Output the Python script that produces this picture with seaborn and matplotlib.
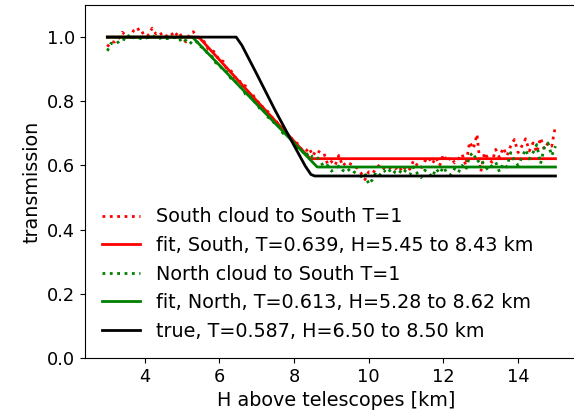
import numpy as np
import matplotlib
matplotlib.use("Agg")
import matplotlib.pyplot as plt
import seaborn as sns

# -------------------------------
# Data
# -------------------------------
h = np.round(np.arange(3.0, 15.01, 0.1), 1)

south = [0.970, 0.985, 0.985, 0.995, 1.015, 1.005, 1.000, 1.020, 1.030, 1.010,
         1.017, 1.005, 1.028, 1.010, 1.016, 1.000, 1.005, 1.014, 1.000, 1.017,
         1.000, 0.985, 1.009, 1.017, 1.000, 0.995, 0.985, 0.962, 0.960, 0.950,
         0.925, 0.925, 0.900, 0.898, 0.875, 0.873, 0.850, 0.848, 0.822, 0.820,
         0.800, 0.795, 0.772, 0.768, 0.750, 0.742, 0.725, 0.718, 0.700, 0.690,
         0.672, 0.668, 0.650, 0.642, 0.655, 0.630, 0.648, 0.640, 0.638, 0.603,
         0.612, 0.600, 0.631, 0.598, 0.610, 0.605, 0.600, 0.590, 0.575, 0.556,
         0.580, 0.575, 0.590, 0.603, 0.592, 0.585, 0.595, 0.588, 0.598, 0.580,
         0.598, 0.588, 0.615, 0.600, 0.590, 0.613, 0.625, 0.605, 0.625, 0.600,
         0.634, 0.612, 0.625, 0.608, 0.620, 0.635, 0.600, 0.673, 0.652, 0.697,
         0.580, 0.640, 0.620, 0.610, 0.650, 0.625, 0.655, 0.630, 0.660, 0.681,
         0.640, 0.660, 0.683, 0.645, 0.670, 0.640, 0.686, 0.650, 0.670, 0.660,
         0.723]

north = [0.957, 0.981, 0.978, 0.985, 0.995, 0.990, 1.010, 0.998, 1.000, 0.995,
         0.994, 1.000, 1.005, 0.998, 0.996, 1.000, 0.995, 1.000, 0.998, 1.000,
         0.983, 0.990, 0.978, 0.990, 0.985, 0.970, 0.965, 0.945, 0.940, 0.920,
         0.915, 0.895, 0.892, 0.872, 0.868, 0.848, 0.842, 0.822, 0.820, 0.800,
         0.795, 0.772, 0.770, 0.750, 0.745, 0.725, 0.722, 0.700, 0.700, 0.680,
         0.672, 0.655, 0.650, 0.630, 0.640, 0.625, 0.628, 0.613, 0.595, 0.600,
         0.582, 0.590, 0.598, 0.585, 0.578, 0.590, 0.580, 0.573, 0.565, 0.575,
         0.541, 0.556, 0.580, 0.570, 0.585, 0.575, 0.590, 0.578, 0.573, 0.590,
         0.580, 0.570, 0.595, 0.575, 0.562, 0.585, 0.578, 0.563, 0.590, 0.575,
         0.595, 0.575, 0.570, 0.590, 0.578, 0.600, 0.585, 0.630, 0.640, 0.610,
         0.620, 0.600, 0.585, 0.600, 0.610, 0.580, 0.605, 0.595, 0.640, 0.615,
         0.600, 0.625, 0.650, 0.620, 0.640, 0.665, 0.605, 0.655, 0.670, 0.630,
         0.660]

# fitted / true profiles (corner points)
fit_s_h = [3.0, 5.45, 6.9, 8.43, 15.0]
fit_s_t = [1.0, 1.0, 0.814, 0.621, 0.621]
fit_n_h = [3.0, 5.28, 6.9, 8.62, 15.0]
fit_n_t = [1.0, 1.0, 0.803, 0.595, 0.595]
true_h = [3.0, 6.45, 6.6, 7.0, 7.5, 8.0, 8.3, 8.45, 8.55, 15.0]
true_t = [1.0, 1.0, 0.975, 0.885, 0.770, 0.662, 0.598, 0.572, 0.567, 0.567]

labels = ["South cloud to South T=1",
          "fit, South, T=0.639, H=5.45 to 8.43 km",
          "North cloud to South T=1",
          "fit, North, T=0.613, H=5.28 to 8.62 km",
          "true, T=0.587, H=6.50 to 8.50 km"]

# -------------------------------
# Plot
# -------------------------------
plt.rcParams['font.size'] = 13.75
plt.rcParams['xtick.labelsize'] = 12.8
plt.rcParams['ytick.labelsize'] = 12.8
fig = plt.figure(figsize=(5.74, 4.2), dpi=100)
ax = fig.add_axes([0.148, 0.148, 0.875, 0.840])

sns.lineplot(x=h, y=south, color='red', linestyle=':', linewidth=2,
             label=labels[0], ax=ax)
sns.lineplot(x=fit_s_h, y=fit_s_t, color='red', linewidth=2,
             label=labels[1], ax=ax)
sns.lineplot(x=h, y=north, color='green', linestyle=':', linewidth=2,
             label=labels[2], ax=ax)
sns.lineplot(x=fit_n_h, y=fit_n_t, color='green', linewidth=2,
             label=labels[3], ax=ax)
sns.lineplot(x=true_h, y=true_t, color='black', linewidth=2,
             label=labels[4], ax=ax)

ax.set_xlim(2.4, 15.85)
ax.set_ylim(0, 1.1)
ax.set_xticks([4, 6, 8, 10, 12, 14])
ax.set_yticks([0.0, 0.2, 0.4, 0.6, 0.8, 1.0])
ax.set_xlabel("H above telescopes [km]")
ax.set_ylabel("transmission")
ax.legend(loc='lower left', frameon=False)

fig.savefig("out.png", dpi=100)
